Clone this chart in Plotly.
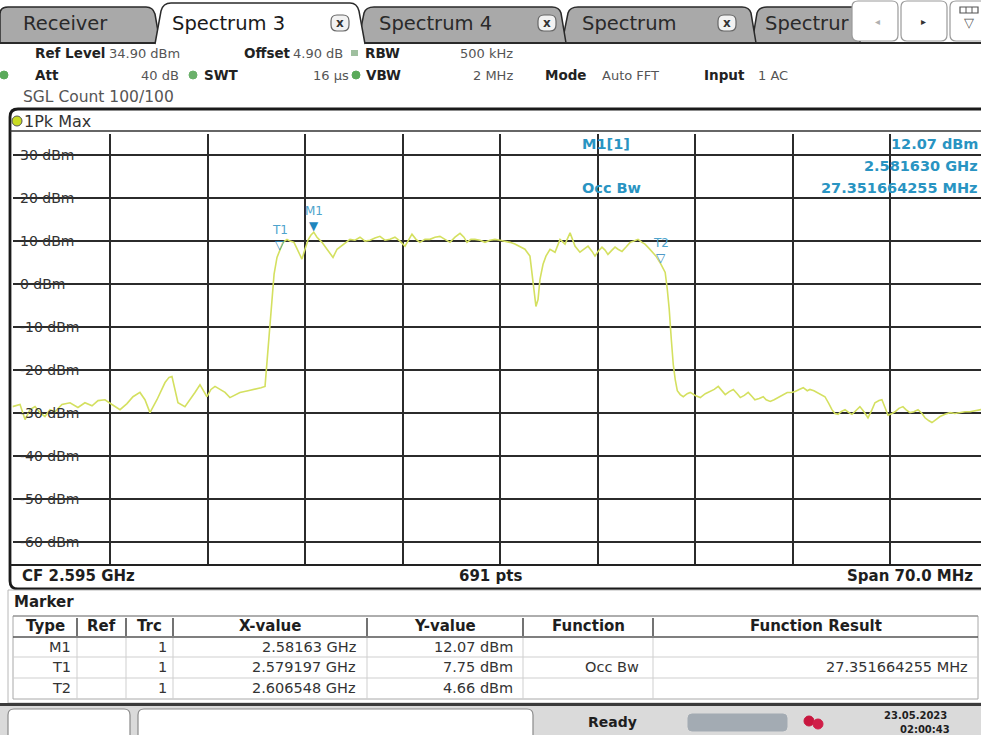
import plotly.graph_objects as go

W, H = 981, 735
FONT = "DejaVu Sans"

# ---------------- data ----------------
start_ghz = 2.560
span_mhz = 70.0
center_label = "CF 2.595 GHz"
points_label = "691 pts"
span_label = "Span 70.0 MHz"

freq_offset_mhz = [
    0.00, 0.54, 0.90, 1.26, 1.62, 1.97, 2.33, 2.69, 3.05, 3.55,
    4.13, 4.70, 5.20, 5.71, 6.14, 6.64, 7.14, 7.72, 8.22, 8.65,
    9.15, 9.51, 9.87, 10.37, 10.95, 11.24, 11.45, 11.67, 11.88, 12.38,
    12.74, 13.10, 13.46, 13.75, 13.96, 14.25, 14.54, 14.90, 15.26, 15.61,
    15.97, 16.33, 16.91, 17.41, 17.84, 18.13, 18.34, 18.49, 18.63, 18.78,
    18.99, 19.20, 19.42, 19.71, 19.92, 20.21, 20.50, 20.78, 21.00, 21.21,
    21.43, 21.63, 21.86, 22.22, 22.58, 23.01, 23.30, 23.58, 23.94, 24.23,
    24.59, 24.95, 25.31, 25.67, 26.02, 26.38, 26.74, 27.10, 27.46, 27.82,
    28.18, 28.46, 28.68, 28.97, 29.25, 29.61, 29.97, 30.33, 30.69, 31.05,
    31.41, 31.77, 32.13, 32.41, 32.63, 32.91, 33.20, 33.56, 33.92, 34.28,
    34.64, 35.00, 35.36, 35.72, 36.07, 36.43, 36.79, 37.15, 37.37, 37.58,
    37.73, 37.87, 38.09, 38.30, 38.59, 38.95, 39.31, 39.67, 40.03, 40.39,
    40.74, 41.03, 41.32, 41.61, 41.82, 42.04, 42.32, 42.54, 42.75, 43.04,
    43.26, 43.47, 43.76, 44.05, 44.34, 44.62, 44.91, 45.20, 45.41, 45.70,
    45.92, 46.20, 46.55, 46.86, 47.01, 47.15, 47.30, 47.44, 47.58, 47.73,
    47.94, 48.16, 48.44, 48.66, 49.02, 49.38, 49.74, 50.09, 50.38, 50.67,
    50.96, 51.17, 51.46, 51.75, 52.03, 52.25, 52.54, 52.82, 53.11, 53.30,
    53.61, 53.90, 54.11, 54.40, 54.68, 54.97, 55.26, 55.62, 55.91, 56.19,
    56.48, 56.77, 57.06, 57.25, 57.54, 57.75, 58.04, 58.33, 58.61, 58.83,
    59.05, 59.27, 59.48, 59.77, 60.05, 60.27, 60.56, 60.84, 61.13, 61.42,
    61.71, 61.92, 62.21, 62.42, 62.64, 62.86, 63.14, 63.36, 63.64, 63.93,
    64.14, 64.43, 64.72, 65.01, 65.30, 65.51, 65.80, 66.01, 66.30, 66.59,
    66.95, 67.31, 67.66, 68.02, 68.38, 68.74, 69.10, 69.53, 70.00,
]
level_dbm = [
    -28.5, -28.0, -31.5, -29.2, -28.5, -29.9, -30.8, -29.2, -29.7, -28.0,
    -27.6, -28.7, -27.6, -28.3, -27.1, -26.9, -28.0, -29.2, -27.8, -26.2,
    -25.2, -26.9, -29.9, -26.9, -22.9, -21.7, -21.5, -24.5, -27.6, -28.5,
    -26.9, -25.2, -23.4, -25.0, -26.2, -24.5, -23.8, -24.5, -25.2, -26.4,
    -25.7, -25.2, -24.8, -24.5, -24.1, -23.8, -15.2, -10.6, -3.6, 2.3,
    6.2, 7.75, 9.7, 10.4, 10.0, 9.7, 7.6, 5.8, 8.1, 10.2,
    11.4, 12.07, 10.9, 9.7, 8.1, 6.2, 8.1, 8.8, 9.7, 10.4,
    10.2, 10.9, 10.0, 10.2, 10.7, 11.1, 10.2, 10.4, 10.9, 10.0,
    8.8, 10.4, 11.6, 10.4, 9.7, 10.4, 10.4, 10.9, 11.1, 10.4,
    9.7, 10.9, 11.8, 10.9, 9.7, 10.4, 10.4, 10.2, 9.7, 10.2,
    10.4, 10.2, 10.0, 9.7, 9.3, 8.6, 8.1, 6.5, 0.4, -5.2,
    -3.6, 1.1, 4.6, 6.5, 8.1, 7.4, 10.4, 9.3, 11.9, 8.8,
    7.4, 8.1, 8.8, 7.6, 6.5, 7.6, 8.6, 7.9, 6.9, 7.9,
    8.6, 8.1, 7.6, 8.6, 9.7, 10.0, 10.4, 9.7, 9.3, 8.3,
    7.6, 6.5, 4.66, 2.7, -1.2, -5.9, -12.9, -18.7, -22.2, -24.8,
    -25.7, -26.2, -25.5, -25.2, -25.9, -26.4, -25.5, -25.0, -24.5, -23.8,
    -25.0, -25.7, -25.0, -24.5, -25.5, -26.4, -25.9, -25.2, -26.2, -26.9,
    -26.6, -26.2, -26.9, -27.3, -26.9, -26.4, -25.9, -25.2, -25.2, -25.0,
    -24.5, -24.1, -24.8, -24.5, -24.8, -25.2, -25.7, -26.2, -27.8, -29.2,
    -30.1, -30.3, -29.7, -29.2, -29.9, -30.3, -29.4, -28.5, -29.7, -31.1,
    -29.2, -27.6, -27.1, -26.9, -28.7, -30.5, -30.1, -29.7, -28.9, -28.5,
    -29.2, -29.9, -29.7, -29.2, -30.1, -31.1, -31.8, -32.2, -31.5, -30.8,
    -30.3, -29.9, -30.1, -29.9, -29.7, -29.7, -29.4, -29.2, -29.0,
]

ref_level_dbm = 34.90
y_tick_values = [30, 20, 10, 0, -10, -20, -30, -40, -50, -60]
y_tick_labels = ["30 dBm", "20 dBm", "10 dBm", "0 dBm", "-10 dBm", "-20 dBm",
                 "-30 dBm", "-40 dBm", "-50 dBm", "-60 dBm"]

marker_names = ["M1", "T1", "T2"]
marker_freq_ghz = [2.58163, 2.579197, 2.606548]
marker_level_dbm = [12.07, 7.75, 4.66]
marker_symbols = ["▼", "▽", "▽"]

table_headers = ["Type", "Ref", "Trc", "X-value", "Y-value", "Function", "Function Result"]
table_type = ["M1", "T1", "T2"]
table_ref = ["", "", ""]
table_trc = ["1", "1", "1"]
table_x = ["2.58163 GHz", "2.579197 GHz", "2.606548 GHz"]
table_y = ["12.07 dBm", "7.75 dBm", "4.66 dBm"]
table_func = ["", "Occ Bw", ""]
table_result = ["", "27.351664255 MHz", ""]

tab_labels = ["Receiver", "Spectrum 3", "Spectrum 4", "Spectrum", "Spectrur"]

# ---------------- helpers ----------------
def X(p):
    return p / W


def Y(p):
    return 1 - p / H


shapes = []
ann = []


def text(px, py, s, size=15, bold=False, color="#1e1e1e", anchor="left",
         vanchor="middle", **kw):
    ann.append(dict(x=X(px), y=Y(py), xref="paper", yref="paper",
                    text=f"<b>{s}</b>" if bold else s, showarrow=False,
                    xanchor=anchor, yanchor=vanchor,
                    font=dict(family=FONT, size=size, color=color), **kw))


def rect(x0, y0, x1, y1, fill=None, line=None, lw=1, layer="above"):
    shapes.append(dict(type="rect", xref="paper", yref="paper",
                       x0=X(x0), x1=X(x1), y0=Y(y1), y1=Y(y0),
                       fillcolor=fill or "rgba(0,0,0,0)",
                       line=dict(color=line or "rgba(0,0,0,0)", width=lw if line else 0),
                       layer=layer))


def hline(x0, x1, y, color="#222", lw=1.5, layer="above"):
    shapes.append(dict(type="line", xref="paper", yref="paper",
                       x0=X(x0), x1=X(x1), y0=Y(y), y1=Y(y),
                       line=dict(color=color, width=lw), layer=layer))


def vline(x, y0, y1, color="#222", lw=1.5, layer="above"):
    shapes.append(dict(type="line", xref="paper", yref="paper",
                       x0=X(x), x1=X(x), y0=Y(y0), y1=Y(y1),
                       line=dict(color=color, width=lw), layer=layer))


def path(cmds, fill=None, line="#222", lw=1.5, layer="above"):
    parts = []
    for c in cmds:
        if c[0] == "Z":
            parts.append("Z")
        elif c[0] == "Q":
            parts.append(f"Q {X(c[1]):.5f},{Y(c[2]):.5f} {X(c[3]):.5f},{Y(c[4]):.5f}")
        else:
            parts.append(f"{c[0]} {X(c[1]):.5f},{Y(c[2]):.5f}")
    shapes.append(dict(type="path", xref="paper", yref="paper", path=" ".join(parts),
                       fillcolor=fill or "rgba(0,0,0,0)",
                       line=dict(color=line, width=lw), layer=layer))


def circle(cx, cy, r, fill, line=None, lw=1):
    shapes.append(dict(type="circle", xref="paper", yref="paper",
                       x0=X(cx - r), x1=X(cx + r), y0=Y(cy + r), y1=Y(cy - r),
                       fillcolor=fill, line=dict(color=line or fill, width=lw)))


def rrect(x0, y0, x1, y1, r, fill, line, lw=1.2):
    path([("M", x0, y0 + r), ("Q", x0, y0, x0 + r, y0), ("L", x1 - r, y0),
          ("Q", x1, y0, x1, y0 + r), ("L", x1, y1 - r), ("Q", x1, y1, x1 - r, y1),
          ("L", x0 + r, y1), ("Q", x0, y1, x0, y1 - r), ("Z",)], fill=fill, line=line, lw=lw)


# ---------------- geometry of the diagram ----------------
PX_L, PX_DIV = 12.5, 97.5          # left edge of grid, pixels per division
PY_T, PY_B = 134, 564              # top/bottom of grid
div_ghz = span_mhz / 10 / 1000
x_range = [start_ghz, start_ghz + div_ghz * (W - PX_L) / PX_DIV]
y_range = [ref_level_dbm - 100, ref_level_dbm]

fig = go.Figure()

freq_ghz = [start_ghz + f / 1000 for f in freq_offset_mhz]
fig.add_trace(go.Scatter(x=freq_ghz, y=level_dbm, mode="lines",
                         line=dict(color="#d4e060", width=1.6), hoverinfo="skip"))

# markers
for name, fx, lv, sym in zip(marker_names, marker_freq_ghz, marker_level_dbm, marker_symbols):
    ann.append(dict(x=fx, y=lv, xref="x", yref="y", text=sym, showarrow=False,
                    xanchor="center", yanchor="middle", yshift=6,
                    font=dict(family=FONT, size=12, color="#1f86bd")))
    ann.append(dict(x=fx, y=lv, xref="x", yref="y", text=name, showarrow=False,
                    xanchor="center", yanchor="middle", yshift=21,
                    font=dict(family=FONT, size=12, color="#4ea3cc")))

# ---------------- tab bar ----------------
path([("M", 0, 43), ("L", 0, 14), ("Q", 0, 7, 8, 7), ("L", 146, 7), ("Q", 153, 7, 155, 14),
      ("L", 160, 43), ("Z",)], fill="#a9a9a9", line="#2a2a2a", lw=1.5)
path([("M", 752, 43), ("L", 757, 13), ("Q", 759, 7, 767, 7), ("L", 860, 7), ("L", 860, 43),
      ("Z",)], fill="#a9a9a9", line="#2a2a2a", lw=1.5)
path([("M", 562, 43), ("L", 568, 13), ("Q", 570, 7, 578, 7), ("L", 742, 7), ("Q", 749, 7, 751, 13),
      ("L", 756, 43), ("Z",)], fill="#a9a9a9", line="#2a2a2a", lw=1.5)
path([("M", 358, 43), ("L", 364, 13), ("Q", 366, 7, 374, 7), ("L", 552, 7), ("Q", 559, 7, 561, 13),
      ("L", 566, 43), ("Z",)], fill="#a9a9a9", line="#2a2a2a", lw=1.5)
hline(0, 160, 43, "#2a2a2a", 2.2)
hline(360, 981, 43, "#2a2a2a", 2.2)
path([("M", 155, 44), ("L", 161, 11), ("Q", 163, 3, 171, 3), ("L", 350, 3), ("Q", 357, 3, 359, 11),
      ("L", 365, 44)], fill="#ffffff", line="#2a2a2a", lw=1.5)
rect(157, 42, 363, 46, fill="#ffffff")

text(21, 24, tab_labels[0], size=19.5, color="#2a2a2a")
text(170, 24, tab_labels[1], size=19.5, color="#1a1a1a")
text(377, 24, tab_labels[2], size=19.5, color="#2a2a2a")
text(580, 24, tab_labels[3], size=19.5, color="#2a2a2a")
text(763, 24, tab_labels[4], size=19.5, color="#2a2a2a")
for cx in (340, 547, 727):
    rrect(cx - 9, 15, cx + 9, 31, 6, "#f2f2f2", "#666", 1.2)
    text(cx, 23, "x", size=12, bold=True, color="#333", anchor="center")

for x0, x1 in ((852, 898), (901, 947), (950, 995)):
    rrect(x0, 1, x1, 41, 6, "#ffffff", "#9a9a9a", 1.2)
text(877, 22, "◂", size=10, color="#b0b0b0", anchor="center")
text(923, 22, "▸", size=10, color="#333", anchor="center")
rect(960, 7, 978, 13, fill="#ffffff", line="#555", lw=1.2)
vline(966, 7, 13, "#555", 1)
vline(972, 7, 13, "#555", 1)
text(969, 23, "▽", size=13, color="#555", anchor="center")

# ---------------- header ----------------
LS, VS = 13.5, 13
LC, VC = "#222", "#555"
text(33, 53, "Ref Level", size=LS, bold=True, color=LC)
text(182, 53, "34.90 dBm", size=VS, color=VC, anchor="right")
text(242, 53, "Offset", size=LS, bold=True, color=LC)
text(345, 53, "4.90 dB", size=VS, color=VC, anchor="right")
rect(351, 50, 358, 56, fill="#9fbf9f")
text(363, 53, "RBW", size=LS, bold=True, color=LC)
text(515, 53, "500 kHz", size=VS, color=VC, anchor="right")

circle(4, 75, 4, "#5aaa5a")
text(33, 75, "Att", size=LS, bold=True, color=LC)
text(181, 75, "40 dB", size=VS, color=VC, anchor="right")
circle(193, 75, 4, "#6ab06a")
text(202, 75, "SWT", size=LS, bold=True, color=LC)
text(351, 75, "16 µs", size=VS, color=VC, anchor="right")
circle(356, 75, 4, "#5aaa5a")
text(364, 75, "VBW", size=LS, bold=True, color=LC)
text(515, 75, "2 MHz", size=VS, color=VC, anchor="right")
text(543, 75, "Mode", size=LS, bold=True, color=LC)
text(600, 75, "Auto FFT", size=VS, color=VC)
text(702, 75, "Input", size=LS, bold=True, color=LC)
text(756, 75, "1 AC", size=VS, color=VC)
text(21, 97, "SGL Count 100/100", size=15.5, color=VC)

# ---------------- diagram frame ----------------
path([("M", 10, 117), ("Q", 10, 109, 18, 109), ("L", 1000, 109), ("L", 1000, 589),
      ("L", 18, 589), ("Q", 10, 589, 10, 581), ("Z",)], line="#1a1a1a", lw=2.8)
hline(10, 981, 131, "#333", 1.5)
hline(10, 981, 565, "#222", 2.2)
circle(17, 121, 5, "#c9dc22", "#555", 1)
text(22, 121, "1Pk Max", size=16, color="#333")

# info block (covers grid)
rect(575, 133, 981, 199.5, fill="#ffffff", layer="between")
INFO = "#2994c2"
text(580, 144, "M1[1]", size=14.5, bold=True, color=INFO)
text(980, 144, "12.07 dBm", size=14.5, bold=True, color=INFO, anchor="right")
text(980, 166, "2.581630 GHz", size=14.5, bold=True, color=INFO, anchor="right")
text(580, 188, "Occ Bw", size=14.5, bold=True, color=INFO)
text(980, 188, "27.351664255 MHz", size=14.5, bold=True, color=INFO, anchor="right")

# y labels with white background behind grid
cw = {"-": .361, " ": .318, "d": .635, "B": .686, "m": .974}
TS = 14
for v, lab in zip(y_tick_values, y_tick_labels):
    wpx = sum(cw.get(ch, .636) for ch in lab) * TS
    ypx = PY_T + (ref_level_dbm - v) / 100 * (PY_B - PY_T)
    rect(13, ypx - 3, 19 + wpx + 1, ypx + 3, fill="#ffffff", layer="between")
    ann.append(dict(x=X(18), y=v, xref="paper", yref="y", text=lab, showarrow=False,
                    xanchor="left", yanchor="middle",
                    font=dict(family=FONT, size=TS, color="#333")))

# bottom line of diagram
text(20, 576, center_label, size=15, bold=True)
text(490, 576, points_label, size=15, bold=True, anchor="center")
text(975, 576, span_label, size=15, bold=True, anchor="right")

# ---------------- marker table ----------------
rect(8, 590, 985, 703, fill="#ffffff", line="#b8b8b8", lw=1)
text(12, 602, "Marker", size=15, bold=True)
rect(13, 616, 978, 699, line="#a8a8a8", lw=1)
hline(13, 978, 616, "#888", 1.2)
hline(13, 978, 637, "#555", 1.5)
hline(13, 978, 657, "#cfcfcf", 1)
hline(13, 978, 678, "#cfcfcf", 1)
col_edges = [13, 77, 126, 173, 367, 523, 653, 978]
for cx in col_edges[1:-1]:
    vline(cx, 618, 636, "#444", 1.5)
    vline(cx, 638, 699, "#cfcfcf", 1)
for i, hdr in enumerate(table_headers):
    text((col_edges[i] + col_edges[i + 1]) / 2, 626, hdr, size=15, bold=True, anchor="center")
right_pos = [73, 121, 169, 358, 515, 641, 970]
cols = [table_type, table_ref, table_trc, table_x, table_y, table_func, table_result]
row_y = [647, 667, 688]
for ci, col in enumerate(cols):
    for ri, val in enumerate(col):
        if val:
            text(right_pos[ci], row_y[ri], val, size=14.5, color="#333", anchor="right")

# ---------------- status bar ----------------
rect(0, 704, 981, 735, fill="#dadada")
hline(0, 981, 704.5, "#3a3a3a", 3)
rrect(8, 709, 130, 742, 6, "#ffffff", "#8a8a8a", 1.2)
rrect(138, 709, 533, 742, 6, "#ffffff", "#8a8a8a", 1.2)
text(612, 722, "Ready", size=14, bold=True, anchor="center")
rrect(688, 714, 787, 731, 4, "#a3abb3", "#a3abb3", 1)
circle(809, 721, 5, "#c8163e")
circle(818, 724, 5, "#d01e48")
text(915, 715, "23.05.2023", size=10, bold=True, anchor="center")
text(925, 729, "02:00:43", size=10, bold=True, anchor="center")

fig.update_layout(
    width=W, height=H, margin=dict(l=0, r=0, t=0, b=0),
    paper_bgcolor="#ffffff", plot_bgcolor="#ffffff", showlegend=False,
    xaxis=dict(domain=[X(PX_L), 1], range=x_range, tick0=start_ghz, dtick=div_ghz,
               showgrid=True, gridcolor="#2b2b2b", gridwidth=1.5, zeroline=False,
               showticklabels=False, ticks="", showline=False, fixedrange=True),
    yaxis=dict(domain=[Y(PY_B), Y(PY_T)], range=y_range, tick0=-60, dtick=10,
               showgrid=True, gridcolor="#2b2b2b", gridwidth=1.5, zeroline=False,
               showticklabels=False, ticks="", showline=False, fixedrange=True),
    shapes=shapes, annotations=ann,
)

fig.write_html("out.html", config={"displayModeBar": False},
               post_script="document.body.style.margin='0';document.body.style.overflow='hidden';")
